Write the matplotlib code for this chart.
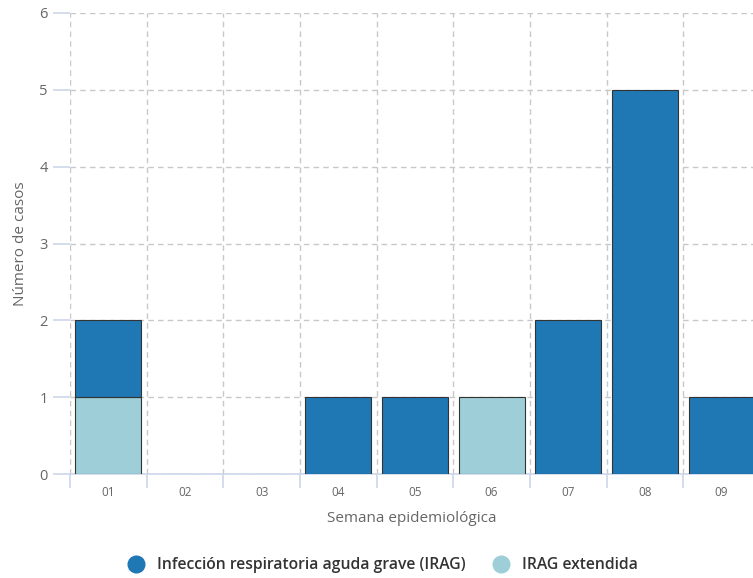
import numpy as np
import matplotlib.pyplot as plt
from matplotlib.lines import Line2D

semanas = ['01', '02', '03', '04', '05', '06', '07', '08', '09']
irag = [1, 0, 0, 1, 1, 0, 2, 5, 1]
irag_ext = [1, 0, 0, 0, 0, 1, 0, 0, 0]

col_irag = '#1f77b4'
col_ext = '#9ecfd9'

plt.rcParams['font.family'] = ['Open Sans', 'DejaVu Sans']

fig = plt.figure(figsize=(7.53, 5.78), dpi=100)
ax = fig.add_axes([70 / 753, 104 / 578, 1 - 70 / 753, (474 - 13) / 578])

x = np.arange(len(semanas))
ext = np.array(irag_ext)
top = np.array(irag)
# skip empty bars so no edge line sits on the axis
m1 = ext > 0
m2 = top > 0
ax.bar(x[m1], ext[m1], width=0.86, color=col_ext, edgecolor='#333333', linewidth=0.8, zorder=3)
ax.bar(x[m2], top[m2], width=0.86, bottom=ext[m2], color=col_irag, edgecolor='#333333', linewidth=0.8, zorder=3)

# grid: horizontal at y ticks, vertical at category boundaries
ax.set_yticks(range(7))
ax.set_xticks(x)
ax.set_xticklabels(semanas)
ax.set_xticks(np.arange(-0.5, 9, 1), minor=True)
ax.set_xlim(-0.5, 8.41)
ax.set_ylim(0, 6)
ax.grid(axis='y', which='major', color='#c8c8c8', linestyle=(0, (4, 3)), linewidth=1, zorder=0)
ax.grid(axis='x', which='minor', color='#c8c8c8', linestyle=(0, (4, 3)), linewidth=1, zorder=0)
ax.tick_params(axis='x', which='major', length=0, pad=9, labelsize=8.5, labelcolor='#666666')
ax.tick_params(axis='x', which='minor', length=10, color='#ccd6eb', width=1.2)
ax.tick_params(axis='y', length=12, color='#ccd6eb', width=1.2, labelsize=10.5, labelcolor='#666666', pad=4)

for s in ['top', 'right', 'left']:
    ax.spines[s].set_visible(False)
ax.spines['bottom'].set_color('#ccd6eb')
ax.spines['bottom'].set_linewidth(1.2)

ax.set_ylabel('Número de casos', fontsize=11, color='#666666', labelpad=8)
ax.set_xlabel('Semana epidemiológica', fontsize=11, color='#666666', labelpad=8)

handles = [
    Line2D([], [], marker='o', linestyle='', markersize=12, color=col_irag),
    Line2D([], [], marker='o', linestyle='', markersize=12, color=col_ext),
]
fig.legend(handles, ['Infección respiratoria aguda grave (IRAG)', 'IRAG extendida'],
           loc='center', bbox_to_anchor=(379 / 753, 1 - 565 / 578), ncol=2, frameon=False,
           labelcolor='#333333', handletextpad=0.3, columnspacing=1.3,
           prop={'weight': 'semibold', 'size': 11.3})

fig.savefig('out.png', dpi=100)
